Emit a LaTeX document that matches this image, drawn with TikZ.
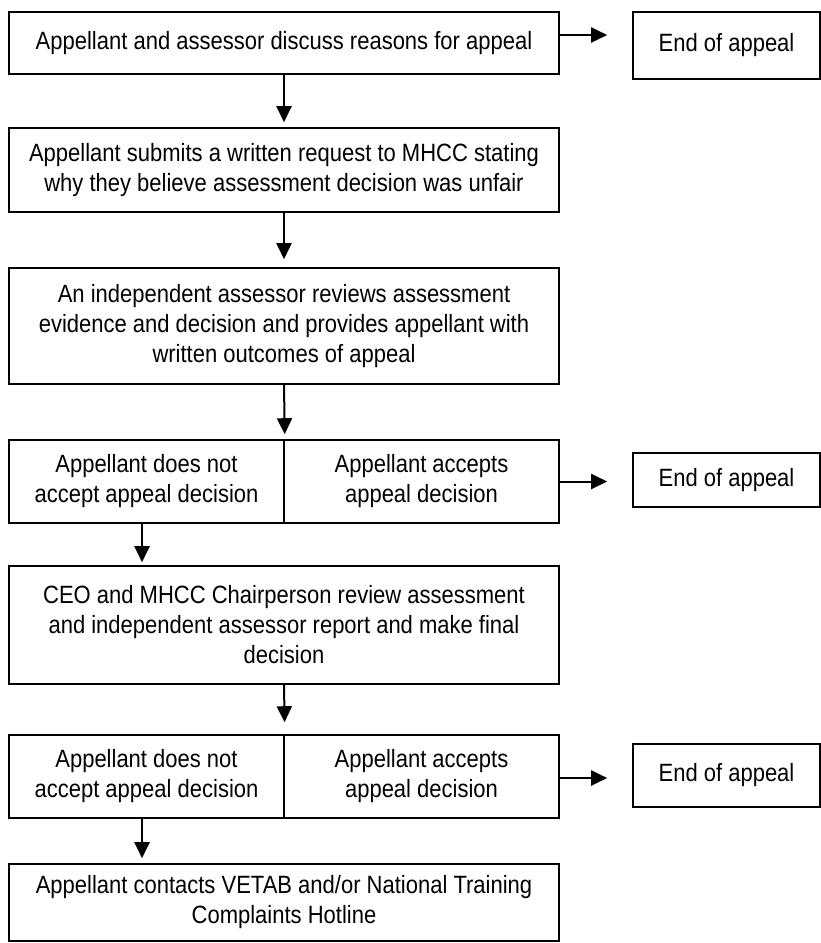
\documentclass[tikz,border=0pt]{standalone}
\usepackage{fontspec}
\setmainfont{Liberation Sans}[FakeStretch=0.88]
\usetikzlibrary{arrows.meta}
\begin{document}
\begin{tikzpicture}[x=1pt,y=1pt,
  boxbase/.style={draw=black, line width=1.6pt, inner sep=0pt, align=center,
    font=\fontsize{25}{30}\selectfont},
  mainbox/.style={boxbase, minimum width=550pt},
  halfbox/.style={boxbase, minimum width=275pt, minimum height=83pt},
  endbox/.style={boxbase, minimum width=187pt},
  arr/.style={line width=2pt, -{Triangle[length=16pt,width=15pt]}}]
\useasboundingbox (0,0) rectangle (821,-943);
% main column
\node[mainbox, minimum height=62pt] (b1) at (284,-43) {Appellant and assessor discuss reasons for appeal};
\node[mainbox, minimum height=84pt] (b2) at (284,-170) {Appellant submits a written request to MHCC stating\\why they believe assessment decision was unfair};
\node[mainbox, minimum height=116pt] (b3) at (284,-326) {An independent assessor reviews assessment\\evidence and decision and provides appellant with\\written outcomes of appeal};
\node[halfbox] (s1l) at (146.5,-481.5) {Appellant does not\\accept appeal decision};
\node[halfbox] (s1r) at (421.5,-481.5) {Appellant accepts\\appeal decision};
\node[mainbox, minimum height=118pt] (ceo) at (284,-625) {CEO and MHCC Chairperson review assessment\\and independent assessor report and make final\\decision};
\node[halfbox] (s2l) at (146.5,-776.5) {Appellant does not\\accept appeal decision};
\node[halfbox] (s2r) at (421.5,-776.5) {Appellant accepts\\appeal decision};
\node[mainbox, minimum height=77pt] (fin) at (284,-902.5) {Appellant contacts VETAB and/or National Training\\Complaints Hotline};
% end boxes
\node[endbox, minimum height=67pt] (e1) at (726.5,-45.5) {End of appeal};
\node[endbox, minimum height=54pt] (e2) at (726.5,-480) {End of appeal};
\node[endbox, minimum height=63pt] (e3) at (726.5,-775.5) {End of appeal};
% vertical connectors
\draw[arr, shorten >=5pt] (b1.south) -- (b2.north);
\draw[arr, shorten >=8pt] (b2.south) -- (b3.north);
\draw[arr, shorten >=5pt] (b3.south) -- (s1l.north east);
\draw[arr, shorten >=3pt] ([xshift=-4.5pt]s1l.south) -- ([xshift=-4.5pt]s1l.south |- ceo.north);
\draw[arr, shorten >=12pt] (ceo.south) -- (s2l.north east);
\draw[arr, shorten >=5pt] ([xshift=-4.5pt]s2l.south) -- ([xshift=-4.5pt]s2l.south |- fin.north);
% horizontal connectors
\draw[arr, shorten >=25pt] ([yshift=8pt]b1.east) -- ([yshift=8pt]b1.east -| e1.west);
\draw[arr, shorten >=25pt] (s1r.east) -- (s1r.east -| e2.west);
\draw[arr, shorten >=25pt] ([yshift=-1.5pt]s2r.east) -- ([yshift=-1.5pt]s2r.east -| e3.west);
\end{tikzpicture}
\end{document}
